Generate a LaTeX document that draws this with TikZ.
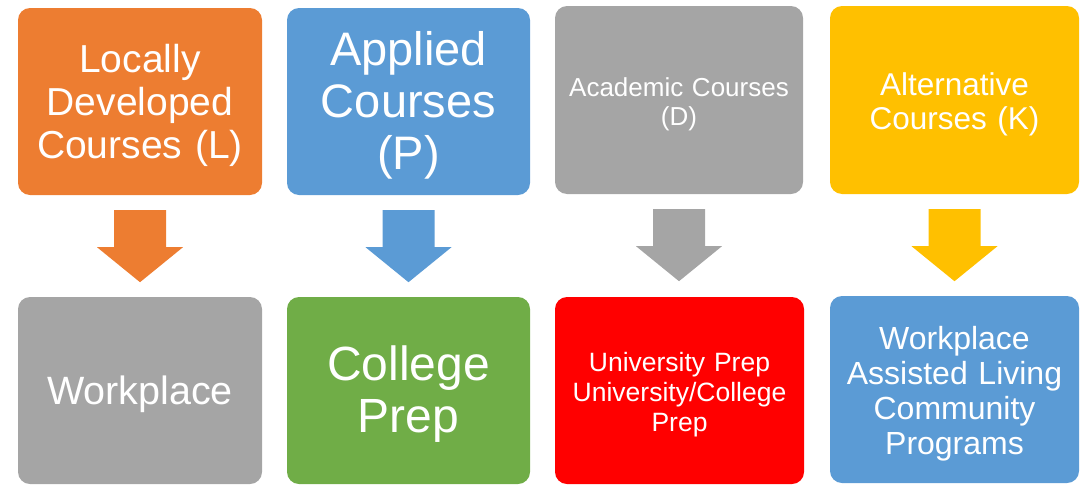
\documentclass[tikz,border=0pt]{standalone}
\usepackage{fontspec}
\setmainfont{Liberation Sans}
\usetikzlibrary{calc}
\definecolor{corange}{HTML}{ED7D31}
\definecolor{cblue}{HTML}{5B9BD5}
\definecolor{cgray}{HTML}{A5A5A5}
\definecolor{cgold}{HTML}{FFC000}
\definecolor{cgreen}{HTML}{70AD47}
\definecolor{cred}{HTML}{FF0000}
\newcommand\fs[2]{\fontsize{#1}{#2}\selectfont}
\tikzset{
  box/.style={rectangle, rounded corners=12pt, minimum height=187pt, minimum width=244pt, inner sep=0pt},
  boxtext/.style={text width=240pt, align=center, text=white, inner sep=0pt, yshift=-4pt},
}
\newcommand\blockarrow[2]{%
  \fill[#2, shift={(#1.south)}] (-26,15) -- (26,15) -- (26,52) -- (43,52) -- (0,87) -- (-43,52) -- (-26,52) -- cycle;}
\begin{document}
\begin{tikzpicture}[x=1pt,y=-1pt]
\useasboundingbox (0,0) rectangle (1089,490);
% top row
\node[box, fill=corange] (t1) at (140,101.5) {};
\node[boxtext, font=\fs{39}{43}] (t1txt) at (t1.center) {Locally\\Developed\\Courses (L)};
\node[box, fill=cblue, minimum width=243pt] (t2) at (408.5,101.5) {};
\node[boxtext, font=\fs{47}{52}] (t2txt) at (t2.center) {Applied\\Courses\\(P)};
\node[box, fill=cgray, minimum width=248pt, minimum height=188pt] (t3) at (679,100) {};
\node[boxtext, font=\fs{26}{29}] (t3txt) at (t3.center) {Academic Courses\\(D)};
\node[box, fill=cgold, minimum width=249pt, minimum height=188pt] (t4) at (954.5,100) {};
\node[boxtext, font=\fs{31.5}{34}] (t4txt) at (t4.center) {Alternative\\Courses (K)};
% bottom row
\node[box, fill=cgray] (b1) at (140,390.5) {};
\node[boxtext, font=\fs{39.5}{45}] (b1txt) at (b1.center) {Workplace};
\node[box, fill=cgreen, minimum width=243pt] (b2) at (408.5,390.5) {};
\node[boxtext, font=\fs{48}{52}] (b2txt) at (b2.center) {College\\Prep};
\node[box, fill=cred, minimum width=249pt] (b3) at (679.5,390.5) {};
\node[boxtext, font=\fs{26.5}{30}] (b3txt) at (b3.center) {University Prep\\University/College\\Prep};
\node[box, fill=cblue, minimum width=249pt] (b4) at (954.5,389.5) {};
\node[boxtext, font=\fs{32}{35}] (b4txt) at (b4.center) {Workplace\\Assisted Living\\Community\\Programs};
% arrows
\blockarrow{t1}{corange}
\blockarrow{t2}{cblue}
\blockarrow{t3}{cgray}
\blockarrow{t4}{cgold}
\end{tikzpicture}
\end{document}
